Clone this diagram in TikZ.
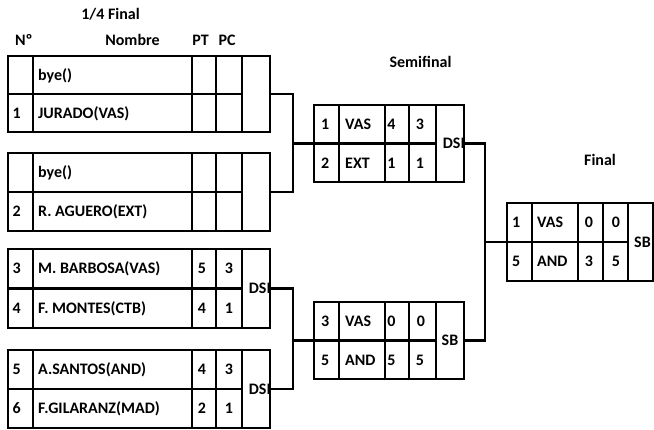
\documentclass[tikz,border=0pt]{standalone}
\usepackage{fontspec}
\setmainfont{Carlito}
\tikzset{
  frame/.style={draw, line width=2.2pt},
  conn/.style={line width=2.2pt},
  plaincell/.style={inner sep=0pt, outer sep=0pt},
  txt/.style={font=\bfseries\fontsize{16}{19}\selectfont, inner sep=0pt, text height=10.3pt, text depth=0pt},
}
% #1 name, #2 x0, #3 c1, #4 c2, #5 c3, #6 c4, #7 x right, #8 top, #9 bottom
\newcommand\matchframe[9]{%
  \node[frame, plaincell, minimum width={(#7-#2)*1pt}, minimum height={(#9-#8)*1pt}] (#1box) at ({(#2+#7)/2},{(#8+#9)/2}) {};
  \draw[frame] (#3,#8) -- (#3,#9) (#4,#8) -- (#4,#9) (#5,#8) -- (#5,#9) (#6,#8) -- (#6,#9);
  \draw[frame] (#2,{(#8+#9)/2}) -- (#6,{(#8+#9)/2});
  \node[plaincell, minimum width={(#7-#6)*1pt}, minimum height={(#9-#8)*1pt}] (#1) at ({(#6+#7)/2},{(#8+#9)/2}) {};
}
\begin{document}
\begin{tikzpicture}[x=1pt,y=-1pt]
\fill[white] (0,0) rectangle (654,430);
\useasboundingbox (0,0) rectangle (654,430);

% headers
\node[txt] (hq) at (110.5,14) {1/4 Final};
\node[txt, anchor=west] (hno) at (15,40) {Nº};
\node[txt] (hnombre) at (132.5,40) {Nombre};
\node[txt] (hpt) at (200.5,40) {PT};
\node[txt] (hpc) at (227,40) {PC};
\node[txt] (hsemi) at (420.5,62) {Semifinal};
\node[txt] (hfinal) at (600,160) {Final};

% quarter-final frames
\matchframe{g1}{8}{33}{192}{216}{242}{270}{56}{132}
\matchframe{g2}{8}{33}{192}{216}{242}{270}{153}{231}
\matchframe{g3}{8}{33}{192}{216}{242}{270}{249}{328}
\matchframe{g4}{8}{33}{192}{216}{242}{270}{350}{428}

% semifinal and final frames
\matchframe{s1}{314}{339}{385}{409}{436}{464}{105}{182}
\matchframe{s2}{314}{339}{385}{409}{436}{464}{302}{379}
\matchframe{f1}{507}{532}{578}{603}{628}{653}{203}{281}

% quarter-final texts
\node[txt, anchor=west] (g1a) at (38,75) {bye()};
\node[txt, anchor=west] (g1bn) at (12.5,113) {1};
\node[txt, anchor=west] (g1b) at (38,113) {JURADO(VAS)};

\node[txt, anchor=west] (g2a) at (38,172.5) {bye()};
\node[txt, anchor=west] (g2bn) at (12.5,211.5) {2};
\node[txt, anchor=west] (g2b) at (38,211.5) {R. AGUERO(EXT)};

\node[txt, anchor=west] (g3an) at (12.5,268.75) {3};
\node[txt, anchor=west] (g3a) at (38,268.75) {M. BARBOSA(VAS)};
\node[txt] (g3apt) at (202,268.75) {5};
\node[txt] (g3apc) at (229,268.75) {3};
\node[txt, anchor=west] (g3bn) at (12.5,308.25) {4};
\node[txt, anchor=west] (g3b) at (38,308.25) {F. MONTES(CTB)};
\node[txt] (g3bpt) at (202,308.25) {4};
\node[txt] (g3bpc) at (229,308.25) {1};
\node[txt, anchor=east] (g3lab) at ([xshift=1pt]g3.east) {DSI};

\node[txt, anchor=west] (g4an) at (12.5,369.5) {5};
\node[txt, anchor=west] (g4a) at (38,369.5) {A.SANTOS(AND)};
\node[txt] (g4apt) at (202,369.5) {4};
\node[txt] (g4apc) at (229,369.5) {3};
\node[txt, anchor=west] (g4bn) at (12.5,408.5) {6};
\node[txt, anchor=west] (g4b) at (38,408.5) {F.GILARANZ(MAD)};
\node[txt] (g4bpt) at (202,408.5) {2};
\node[txt] (g4bpc) at (229,408.5) {1};
\node[txt, anchor=east] (g4lab) at ([xshift=1pt]g4.east) {DSI};

% semifinal texts
\node[txt, anchor=west] (s1an) at (321,124) {1};
\node[txt, anchor=west] (s1a) at (345,124) {VAS};
\node[txt] (s1apt) at (391.5,124) {4};
\node[txt] (s1apc) at (420,124) {3};
\node[txt, anchor=west] (s1bn) at (321,163) {2};
\node[txt, anchor=west] (s1b) at (345,163) {EXT};
\node[txt] (s1bpt) at (391.5,163) {1};
\node[txt] (s1bpc) at (420,163) {1};
\node[txt, anchor=east] (s1lab) at ([xshift=1pt]s1.east) {DSI};

\node[txt, anchor=west] (s2an) at (321,321) {3};
\node[txt, anchor=west] (s2a) at (345,321) {VAS};
\node[txt] (s2apt) at (391.5,321) {0};
\node[txt] (s2apc) at (421,321) {0};
\node[txt, anchor=west] (s2bn) at (321,360) {5};
\node[txt, anchor=west] (s2b) at (345,360) {AND};
\node[txt] (s2bpt) at (391.5,360) {5};
\node[txt] (s2bpc) at (420,360) {5};
\node[txt] (s2lab) at (s2) {SB};

% final texts
\node[txt, anchor=west] (f1an) at (512,222.5) {1};
\node[txt, anchor=west] (f1a) at (537,222.5) {VAS};
\node[txt] (f1apt) at (589,222.5) {0};
\node[txt] (f1apc) at (616,222.5) {0};
\node[txt, anchor=west] (f1bn) at (512,261.5) {5};
\node[txt, anchor=west] (f1b) at (537,261.5) {AND};
\node[txt] (f1bpt) at (589,261.5) {3};
\node[txt] (f1bpc) at (616,261.5) {5};
\node[txt] (f1lab) at ([xshift=2pt]f1) {SB};

% connectors
\coordinate (j1) at (293,143.5);
\coordinate (j2) at (293,340.5);
\coordinate (j3) at (485,242);
\draw[conn] (g1.east) -| (j1) |- (g2.east);
\draw[conn] (j1) -- (s1box.west);
\draw[conn] (g3.east) -| (j2) |- (g4.east);
\draw[conn] (j2) -- (s2box.west);
\draw[conn] (s1.east) -| (j3) |- (s2.east);
\draw[conn] (j3) -- (f1box.west);
\end{tikzpicture}
\end{document}
